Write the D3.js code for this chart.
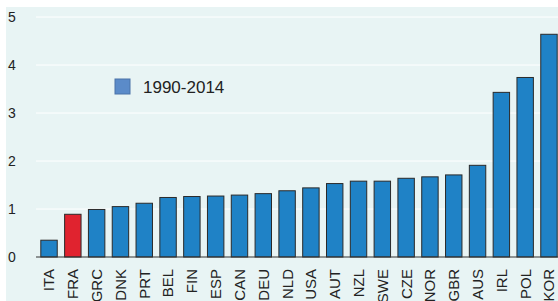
<!DOCTYPE html>
<html>
<head>
<meta charset="utf-8">
<script src="https://cdn.jsdelivr.net/npm/d3@7"></script>
<style>
  body { margin: 0; background: #fff; }
  svg { display: block; font-family: "Liberation Sans", Arial, sans-serif; }
</style>
</head>
<body>
<svg width="558" height="301"></svg>
<script>
var countries = ["ITA", "FRA", "GRC", "DNK", "PRT", "BEL", "FIN", "ESP", "CAN", "DEU", "NLD",
                 "USA", "AUT", "NZL", "SWE", "CZE", "NOR", "GBR", "AUS", "IRL", "POL", "KOR"];
var values = [0.35, 0.89, 0.99, 1.05, 1.12, 1.24, 1.26, 1.27, 1.29, 1.32, 1.38,
              1.44, 1.53, 1.58, 1.58, 1.64, 1.67, 1.71, 1.91, 3.43, 3.74, 4.64];
var yTicks = [0, 1, 2, 3, 4, 5];
var seriesName = "1990-2014";
var highlight = "FRA";

var svg = d3.select("svg"),
    width = +svg.attr("width"),
    height = +svg.attr("height");

// panel background
svg.append("rect")
    .attr("x", 6).attr("y", 7)
    .attr("width", width - 6).attr("height", height - 7)
    .attr("fill", "#e8f4f4");

var x = d3.scaleBand()
    .domain(countries)
    .range([37, 561])
    .paddingInner(0.31)
    .paddingOuter(0.16);

var y = d3.scaleLinear()
    .domain([0, 5])
    .range([257, 17]);

// gridlines
svg.append("g")
  .selectAll("line")
  .data(yTicks.filter(function(d) { return d > 0; }))
  .enter().append("line")
    .attr("x1", 36).attr("x2", width)
    .attr("y1", function(d) { return y(d); })
    .attr("y2", function(d) { return y(d); })
    .attr("stroke", "#ffffff")
    .attr("stroke-width", 1);

// y tick labels
svg.append("g")
  .selectAll("text")
  .data(yTicks)
  .enter().append("text")
    .attr("x", 8)
    .attr("y", function(d) { return y(d); })
    .attr("dy", "0.36em")
    .attr("fill", "#222")
    .style("font-size", "14px")
    .text(function(d) { return d; });

// bars
svg.append("g")
  .selectAll("rect")
  .data(countries)
  .enter().append("rect")
    .attr("x", function(d) { return x(d); })
    .attr("width", x.bandwidth())
    .attr("y", function(d, i) { return y(values[i]); })
    .attr("height", function(d, i) { return y(0) - y(values[i]); })
    .attr("fill", function(d) { return d === highlight ? "#e0232f" : "#1f82c6"; })
    .attr("stroke", "#2a2a2a")
    .attr("stroke-width", 1);

// baseline
svg.append("line")
    .attr("x1", 36).attr("x2", width)
    .attr("y1", y(0)).attr("y2", y(0))
    .attr("stroke", "#333")
    .attr("stroke-width", 1);

// x labels, rotated
svg.append("g")
  .selectAll("text")
  .data(countries)
  .enter().append("text")
    .attr("transform", function(d) {
      return "translate(" + (x(d) + x.bandwidth() / 2) + ",269) rotate(-90)";
    })
    .attr("text-anchor", "end")
    .attr("dy", "0.36em")
    .attr("fill", "#222")
    .style("font-size", "15px")
    .text(function(d) { return d; });

// legend
var legend = svg.append("g").attr("transform", "translate(115,79)");
legend.append("rect")
    .attr("width", 15).attr("height", 15)
    .attr("fill", "#5b8bc9")
    .attr("stroke", "#4a72a8");
legend.append("text")
    .attr("x", 28).attr("y", 8)
    .attr("dy", "0.36em")
    .attr("fill", "#222")
    .style("font-size", "17px")
    .text(seriesName);
</script>
</body>
</html>
